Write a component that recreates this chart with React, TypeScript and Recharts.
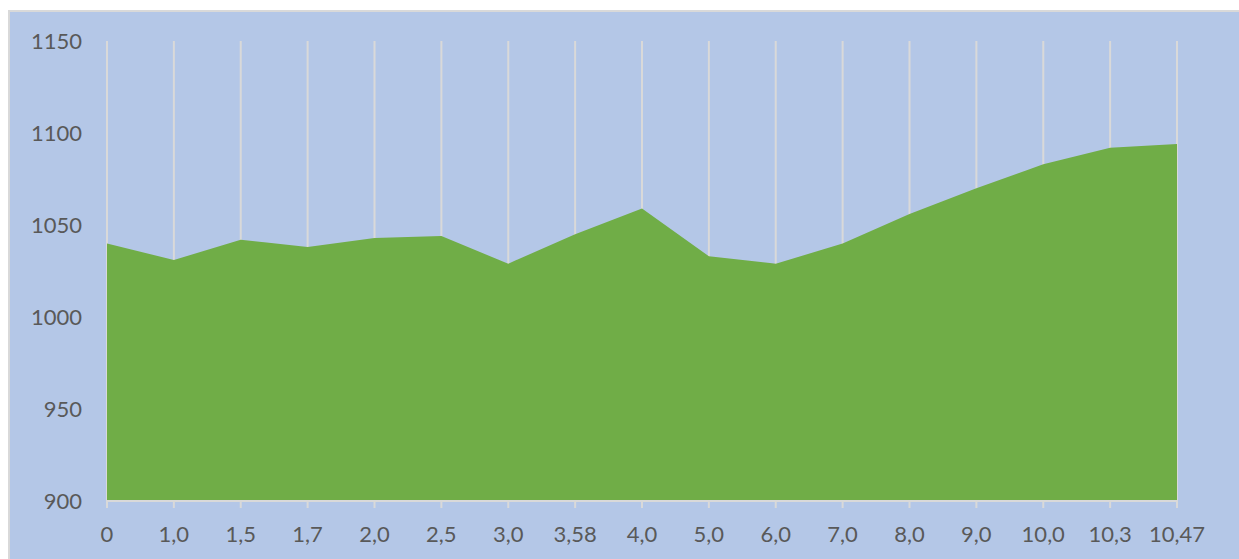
import { AreaChart, Area, XAxis, YAxis, CartesianGrid } from "recharts";

const distances = ["0", "1,0", "1,5", "1,7", "2,0", "2,5", "3,0", "3,58", "4,0", "5,0", "6,0", "7,0", "8,0", "9,0", "10,0", "10,3", "10,47"];
const elevations = [1040, 1031, 1042, 1038, 1043, 1044, 1029, 1045, 1059, 1033, 1029, 1040, 1056, 1070, 1083, 1092, 1094];
const yTicks = [900, 950, 1000, 1050, 1100, 1150];

const data = distances.map((d, i) => ({ km: d, elevation: elevations[i] }));

const tickStyle = { fill: "#595959", fontSize: 22, fontFamily: "Lato, sans-serif" };

export default function App() {
  return (
    <div
      style={{
        position: "fixed",
        left: 8,
        top: 10,
        right: 0,
        bottom: 0,
        background: "#b4c7e7",
        borderTop: "2px solid #d9d9d9",
        borderLeft: "2px solid #d9d9d9",
        overflow: "hidden",
      }}
    >
      <AreaChart width={1229} height={547} data={data} margin={{ top: 29, right: 62, left: 0, bottom: 0 }}>
        <CartesianGrid horizontal={false} stroke="#d9d9d9" strokeWidth={2} />
        <XAxis
          dataKey="km"
          height={58}
          stroke="#d9d9d9"
          strokeWidth={2}
          tickSize={7}
          tickMargin={18}
          tick={tickStyle}
          interval={0}
        />
        <YAxis
          domain={[900, 1150]}
          ticks={yTicks}
          width={97}
          axisLine={false}
          tickLine={false}
          tickSize={0}
          tickMargin={25}
          tick={tickStyle}
        />
        <Area
          type="linear"
          dataKey="elevation"
          stroke="none"
          fill="#70ad47"
          fillOpacity={1}
          isAnimationActive={false}
        />
      </AreaChart>
    </div>
  );
}
